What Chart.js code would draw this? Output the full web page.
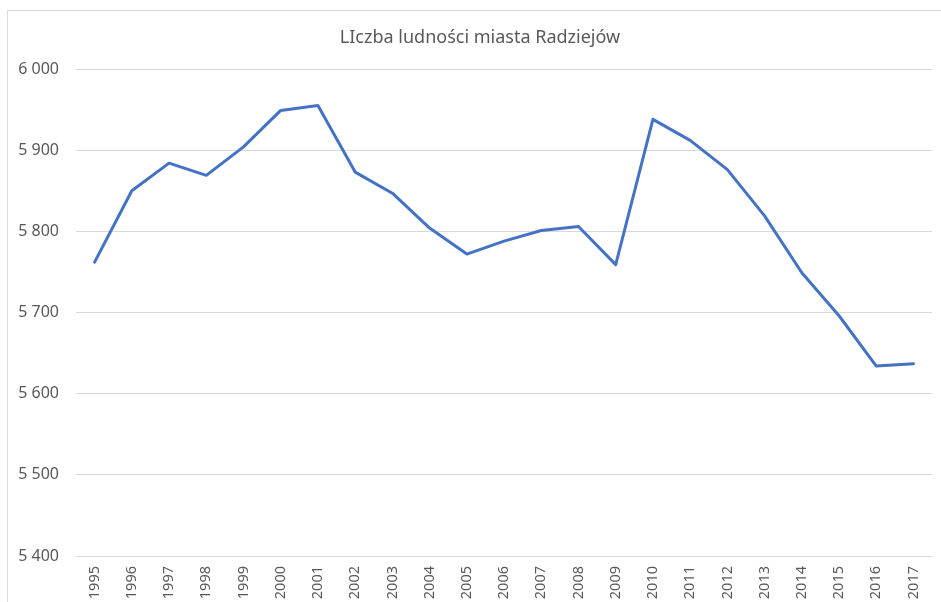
<!DOCTYPE html>
<html>
<head>
<meta charset="utf-8">
<script src="https://cdn.jsdelivr.net/npm/chart.js@4/dist/chart.umd.min.js"></script>
<style>
  html, body { margin: 0; padding: 0; background: #fff; overflow: hidden; }
  #frame { position: absolute; left: 7px; top: 10px; width: 960px; height: 620px; border: 1px solid #d9d9d9; }
  #wrap { position: absolute; left: 0; top: 0; width: 941px; height: 602px; }
  #title { position: absolute; left: 280px; width: 400px; top: 24px; text-align: center;
    font: 18px "Noto Sans", "Open Sans", sans-serif; color: #595959; line-height: 24px; }
</style>
</head>
<body>
<div id="frame"></div>
<div id="wrap"><canvas id="c" width="941" height="602"></canvas></div>
<div id="title">LIczba ludności miasta Radziejów</div>
<script>
'use strict';

// rok i liczba ludności
const years = ['1995', '1996', '1997', '1998', '1999', '2000', '2001', '2002', '2003', '2004', '2005', '2006',
  '2007', '2008', '2009', '2010', '2011', '2012', '2013', '2014', '2015', '2016', '2017'];
const population = [5762, 5850, 5884, 5869, 5904, 5949, 5955, 5873, 5847, 5804, 5772, 5788,
  5801, 5806, 5759, 5938, 5912, 5876, 5819, 5749, 5696, 5634, 5637];
const yMin = 5400, yMax = 6000, yStep = 100;

const grey = '#595959';
const fontFamily = '"Noto Sans", "Open Sans", sans-serif';
const fmt = (v) => String(v).replace(/\B(?=(\d{3})+(?!\d))/g, ' ');

new Chart(document.getElementById('c'), {
  type: 'line',
  data: {
    labels: years,
    datasets: [{
      data: population, borderColor: '#4472C4', borderWidth: 3,
      pointRadius: 0, tension: 0, fill: false,
      borderJoinStyle: 'round', borderCapStyle: 'round',
    }],
  },
  options: {
    responsive: false, animation: false,
    layout: { padding: { left: 0, right: 5, top: 69, bottom: 0 } },
    plugins: {
      legend: { display: false },
      tooltip: { enabled: false },
      title: { display: false },
    },
    scales: {
      x: {
        offset: true,
        grid: { display: false, drawTicks: false },
        border: { display: false },
        ticks: { color: grey, font: { family: fontFamily, size: 14.5 }, minRotation: 90, maxRotation: 90, padding: 10, autoSkip: false },
        afterFit: (s) => { s.height = 46; },
      },
      y: {
        min: yMin, max: yMax,
        grid: { color: '#d9d9d9', lineWidth: 1, drawTicks: false },
        border: { display: false },
        ticks: { stepSize: yStep, color: grey, font: { family: fontFamily, size: 16 }, padding: 17, callback: (v) => fmt(v) },
        afterFit: (s) => { s.width = 76; },
      },
    },
  },
});
</script>
</body>
</html>
